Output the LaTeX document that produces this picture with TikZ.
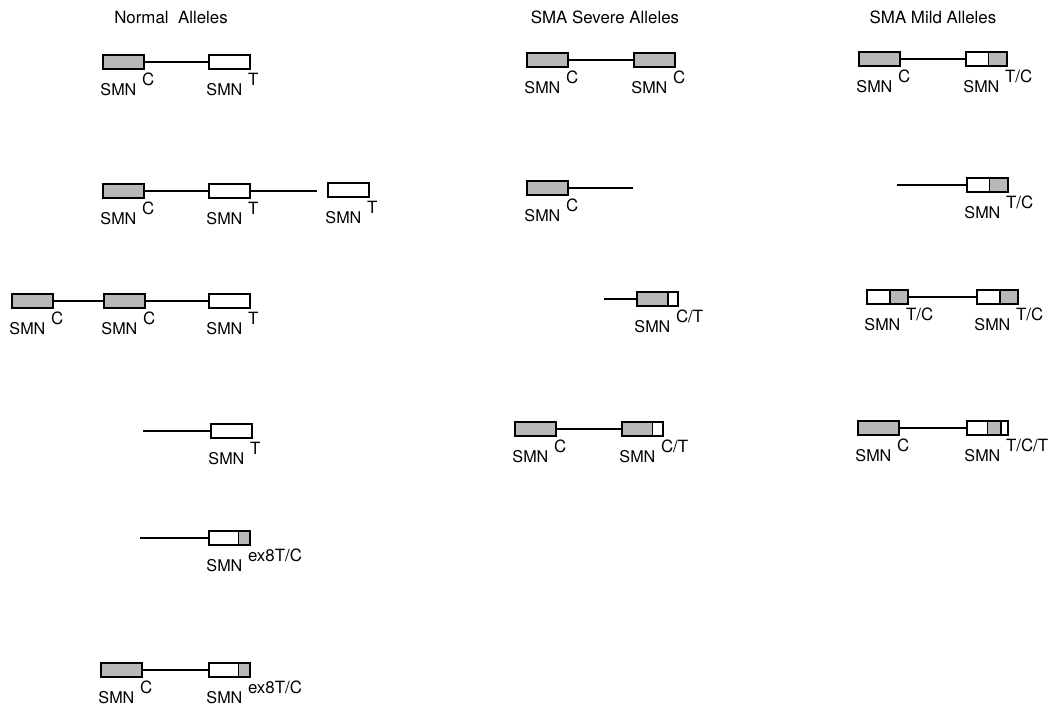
\documentclass[tikz,border=0pt]{standalone}
\usepackage{fontspec}
\setmainfont{TeX Gyre Heros}
\usepackage{xcolor}
\usepackage{tikz}
\usetikzlibrary{positioning, calc}

\definecolor{stipple}{gray}{0.72}
\newcommand{\smn}[1]{SMN\hspace{4pt}\raisebox{7pt}{\fontsize{12}{13}\selectfont #1}}

\begin{document}
\begin{tikzpicture}[
        x=0.025cm, y=-0.025cm,
        node distance=0.1cm and -0.07cm,
        gene/.style={draw, line width=1.2pt, fill=white, minimum width=1.025cm, minimum height=0.35cm, inner sep=0pt, outer sep=0pt},
        cbox/.style={gene, fill=stipple},
        tbox/.style={gene},
        part/.style 2 args={gene, path picture={
            \filldraw[fill=stipple, line width=1.2pt]
              let \p1=(path picture bounding box.south west), \p2=(path picture bounding box.north east)
              in ({\x1+#1*(\x2-\x1)},\y1) rectangle ({\x1+#2*(\x2-\x1)},\y2);}},
        lbl/.style={inner sep=0pt, font=\fontsize{11.5}{13}\selectfont},
        heading/.style={inner sep=0pt, font=\fontsize{12}{14}\selectfont},
        link/.style={line width=0.9pt}
    ]
    \useasboundingbox (0,0) rectangle (1050,709);

    % Headings
    \node[heading] (tnorm) at (171,17) {Normal\ \ Alleles};
    \node[heading] (tsev) at (605,17) {SMA Severe Alleles};
    \node[heading] (tmild) at (933,17) {SMA Mild Alleles};

    % Normal alleles
    \node[cbox] (na1) at (123.5,62) {};
    \node[tbox] (nb1) at (229.5,62) {};
    \node[cbox] (na2) at (123.5,191) {};
    \node[tbox] (nb2) at (229.5,191) {};
    \coordinate (ne2) at (317,191);
    \node[tbox] (nc2) at (348.5,190) {};
    \node[cbox] (na3) at (32.5,301) {};
    \node[cbox] (nb3) at (124.5,301) {};
    \node[tbox] (nc3) at (229.5,301) {};
    \coordinate (ns4) at (143,431);
    \node[tbox] (nb4) at (231.5,431) {};
    \coordinate (ns5) at (140,538);
    \node[part={0.72}{1}] (nb5) at (229.5,538) {};
    \node[cbox] (na6) at (121.5,670) {};
    \node[part={0.72}{1}] (nb6) at (229.5,670) {};

    % Severe alleles
    \node[cbox] (sa1) at (547.5,60) {};
    \node[cbox] (sb1) at (654.5,60) {};
    \node[cbox] (sa2) at (547.5,188) {};
    \coordinate (se2) at (633,188);
    \coordinate (ss3) at (604,299);
    \node[part={0}{0.76}] (sb3) at (657.5,299) {};
    \node[cbox] (sa4) at (535.5,429) {};
    \node[part={0}{0.74}] (sb4) at (642.5,429) {};

    % Mild alleles
    \node[cbox] (ma1) at (879.5,59) {};
    \node[part={0.55}{1}] (mb1) at (986.5,59) {};
    \coordinate (ms2) at (897,185);
    \node[part={0.55}{1}] (mb2) at (987.5,185) {};
    \node[part={0.56}{1}] (ma3) at (887.5,297) {};
    \node[part={0.56}{1}] (mb3) at (997.5,297) {};
    \node[cbox] (ma4) at (878.5,428) {};
    \node[part={0.5}{0.83}] (mb4) at (987.5,428) {};

    % Labels
    \node[lbl, below right=of na1.south west] (lna1) {\smn{C}};
    \node[lbl, below right=of nb1.south west] (lnb1) {\smn{T}};
    \node[lbl, below right=of na2.south west] (lna2) {\smn{C}};
    \node[lbl, below right=of nb2.south west] (lnb2) {\smn{T}};
    \node[lbl, below right=of nc2.south west] (lnc2) {\smn{T}};
    \node[lbl, below right=of na3.south west] (lna3) {\smn{C}};
    \node[lbl, below right=of nb3.south west] (lnb3) {\smn{C}};
    \node[lbl, below right=of nc3.south west] (lnc3) {\smn{T}};
    \node[lbl, below right=of nb4.south west] (lnb4) {\smn{T}};
    \node[lbl, below right=of nb5.south west] (lnb5) {\smn{ex8T/C}};
    \node[lbl, below right=of na6.south west] (lna6) {\smn{C}};
    \node[lbl, below right=of nb6.south west] (lnb6) {\smn{ex8T/C}};
    \node[lbl, below right=of sa1.south west] (lsa1) {\smn{C}};
    \node[lbl, below right=of sb1.south west] (lsb1) {\smn{C}};
    \node[lbl, below right=of sa2.south west] (lsa2) {\smn{C}};
    \node[lbl, below right=of sb3.south west] (lsb3) {\smn{C/T}};
    \node[lbl, below right=of sa4.south west] (lsa4) {\smn{C}};
    \node[lbl, below right=of sb4.south west] (lsb4) {\smn{C/T}};
    \node[lbl, below right=of ma1.south west] (lma1) {\smn{C}};
    \node[lbl, below right=of mb1.south west] (lmb1) {\smn{T/C}};
    \node[lbl, below right=of mb2.south west] (lmb2) {\smn{T/C}};
    \node[lbl, below right=of ma3.south west] (lma3) {\smn{T/C}};
    \node[lbl, below right=of mb3.south west] (lmb3) {\smn{T/C}};
    \node[lbl, below right=of ma4.south west] (lma4) {\smn{C}};
    \node[lbl, below right=of mb4.south west] (lmb4) {\smn{T/C/T}};

    % Links
    \draw[link] (na1) -- (nb1);
    \draw[link] (na2) -- (nb2) -- (ne2);
    \draw[link] (na3) -- (nb3) -- (nc3);
    \draw[link] (ns4) -- (nb4);
    \draw[link] (ns5) -- (nb5);
    \draw[link] (na6) -- (nb6);
    \draw[link] (sa1) -- (sb1);
    \draw[link] (sa2) -- (se2);
    \draw[link] (ss3) -- (sb3);
    \draw[link] (sa4) -- (sb4);
    \draw[link] (ma1) -- (mb1);
    \draw[link] (ms2) -- (mb2);
    \draw[link] (ma3) -- (mb3);
    \draw[link] (ma4) -- (mb4);

\end{tikzpicture}
\end{document}
